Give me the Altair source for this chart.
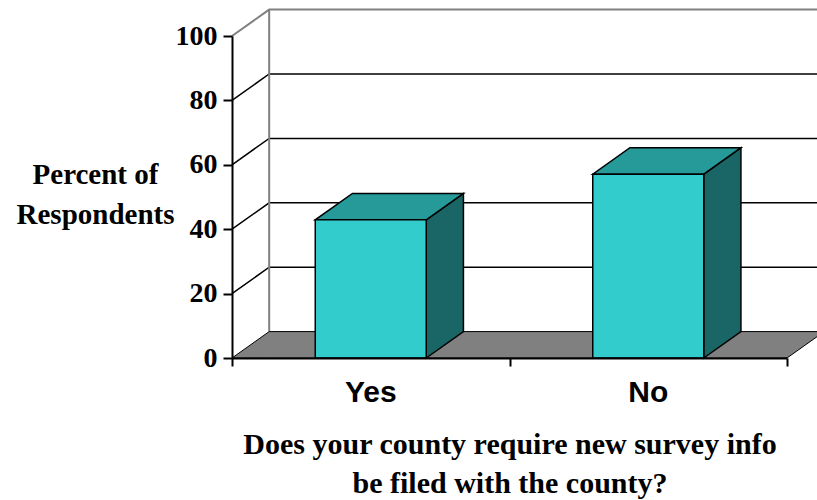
import altair as alt
import pandas as pd

# ---------------- data ----------------
CATEGORIES = ["Yes", "No"]
VALUES = [42.9, 57.1]
Y_TICKS = [0, 20, 40, 60, 80, 100]
Y_TITLE = ["Percent of", "Respondents"]
X_TITLE = ["Does your county require new survey info", "be filed with the county?"]

# ---------------- style (pseudo-3D) ----------------
DEPTH_X = 0.134      # depth offset in category units
DEPTH_Y = 8.2        # depth offset in percent units
BAR_HALF = 0.2       # half bar width in category units
FRONT = "#33CCCC"
TOP = "#269999"
SIDE = "#1A6666"
FLOOR = "#808080"
WALL = "#808080"
SERIF = "Liberation Serif"
SANS = "Liberation Sans"

n = len(CATEGORIES)
X_MAX = n
Y_MAX = Y_TICKS[-1]

# ---------------- derived tables ----------------
floor = pd.DataFrame({
    "x": [0, DEPTH_X, X_MAX, X_MAX + DEPTH_X],
    "y": [0, 0, 0, DEPTH_Y],
    "y2": [0, DEPTH_Y, DEPTH_Y, DEPTH_Y],
})

grid_rows = []
for v in Y_TICKS[1:-1]:
    for k, (xx, yy) in enumerate([(0, v), (DEPTH_X, v + DEPTH_Y), (X_MAX + DEPTH_X, v + DEPTH_Y)]):
        grid_rows.append({"g": v, "o": k, "x": xx, "y": yy})
grid = pd.DataFrame(grid_rows)

edge_rows = []
for k, (xx, yy) in enumerate([(0, Y_MAX), (DEPTH_X, Y_MAX + DEPTH_Y), (X_MAX + DEPTH_X, Y_MAX + DEPTH_Y)]):
    edge_rows.append({"g": "top", "o": k, "x": xx, "y": yy})
for k, (xx, yy) in enumerate([(DEPTH_X, DEPTH_Y), (DEPTH_X, Y_MAX + DEPTH_Y)]):
    edge_rows.append({"g": "back", "o": k, "x": xx, "y": yy})
edges = pd.DataFrame(edge_rows)

front_rows, side_rows, top_rows, label_rows = [], [], [], []
for i, (c, v) in enumerate(zip(CATEGORIES, VALUES)):
    xc = i + 0.5
    xl, xr = xc - BAR_HALF, xc + BAR_HALF
    front_rows.append({"cat": c, "x": xl, "x2": xr, "y": 0, "y2": v})
    side_rows += [
        {"cat": c, "x": xr, "y": 0, "y2": v},
        {"cat": c, "x": xr + DEPTH_X, "y": DEPTH_Y, "y2": v + DEPTH_Y},
    ]
    top_rows += [
        {"cat": c, "x": xl, "y": v, "y2": v},
        {"cat": c, "x": xl + DEPTH_X, "y": v, "y2": v + DEPTH_Y},
        {"cat": c, "x": xr, "y": v, "y2": v + DEPTH_Y},
        {"cat": c, "x": xr + DEPTH_X, "y": v + DEPTH_Y, "y2": v + DEPTH_Y},
    ]
    label_rows.append({"cat": c, "x": xc, "y": 0})
front = pd.DataFrame(front_rows)
side = pd.DataFrame(side_rows)
top = pd.DataFrame(top_rows)
labels = pd.DataFrame(label_rows)

# ---------------- scales / axes ----------------
xscale = alt.Scale(domain=[0, X_MAX], nice=False, zero=False)
yscale = alt.Scale(domain=[0, Y_MAX], nice=False)

xaxis = alt.Axis(
    values=list(range(0, X_MAX + 1)), labels=False, grid=False,
    tickColor="black", tickSize=8, tickWidth=2,
    domainColor="black", domainWidth=2,
    title=X_TITLE, titleFont=SERIF, titleFontSize=30, titleFontWeight="bold",
    titleColor="black", titleAlign="center", titleBaseline="alphabetic",
    titleX=277.5, titleY=95, titleLineHeight=39, zindex=1,
)
yaxis = alt.Axis(
    values=Y_TICKS, format="d", grid=False,
    labelFont=SERIF, labelFontSize=28, labelFontWeight="bold", labelColor="black",
    labelPadding=6, tickColor="black", tickSize=9, tickWidth=2,
    domainColor="black", domainWidth=2,
    title=Y_TITLE, titleFont=SERIF, titleFontSize=29, titleFontWeight="bold",
    titleColor="black", titleAngle=0, titleAlign="center", titleBaseline="alphabetic",
    titleX=-137, titleY=147, titleLineHeight=40, zindex=1,
)

X = alt.X("x:Q", scale=xscale, axis=xaxis)
Y = alt.Y("y:Q", scale=yscale, axis=yaxis)

# ---------------- layers ----------------
grid_layer = alt.Chart(grid).mark_line(color="black", strokeWidth=1.5).encode(
    x=X, y=Y, detail="g:N", order="o:Q")
edge_layer = alt.Chart(edges).mark_line(color=WALL, strokeWidth=2).encode(
    x=X, y=Y, detail="g:N", order="o:Q")
floor_layer = alt.Chart(floor).mark_area(fill=FLOOR, stroke="black", strokeWidth=1).encode(
    x=X, y=Y, y2="y2:Q")
side_layer = alt.Chart(side).mark_area(fill=SIDE, stroke="black", strokeWidth=1.5).encode(
    x=X, y=Y, y2="y2:Q", detail="cat:N")
top_layer = alt.Chart(top).mark_area(fill=TOP, stroke="black", strokeWidth=1.5).encode(
    x=X, y=Y, y2="y2:Q", detail="cat:N")
front_layer = alt.Chart(front).mark_rect(fill=FRONT, stroke="black", strokeWidth=1.5).encode(
    x=X, x2="x2:Q", y=Y, y2="y2:Q")
label_layer = alt.Chart(labels).mark_text(
    font=SANS, fontSize=30, fontWeight="bold", color="black",
    baseline="alphabetic", align="center", dy=44,
).encode(x=X, y=Y, text="cat:N")

chart = alt.layer(
    grid_layer, edge_layer, floor_layer, side_layer, top_layer, front_layer, label_layer
).properties(
    width=555, height=322,
    autosize=alt.AutoSizeParams(type="none"),
    padding={"left": 232, "top": 36, "right": 30, "bottom": 142},
    background="white",
).configure_view(stroke=None)

chart.save("out.html", embed_options={"renderer": "svg", "actions": False})
